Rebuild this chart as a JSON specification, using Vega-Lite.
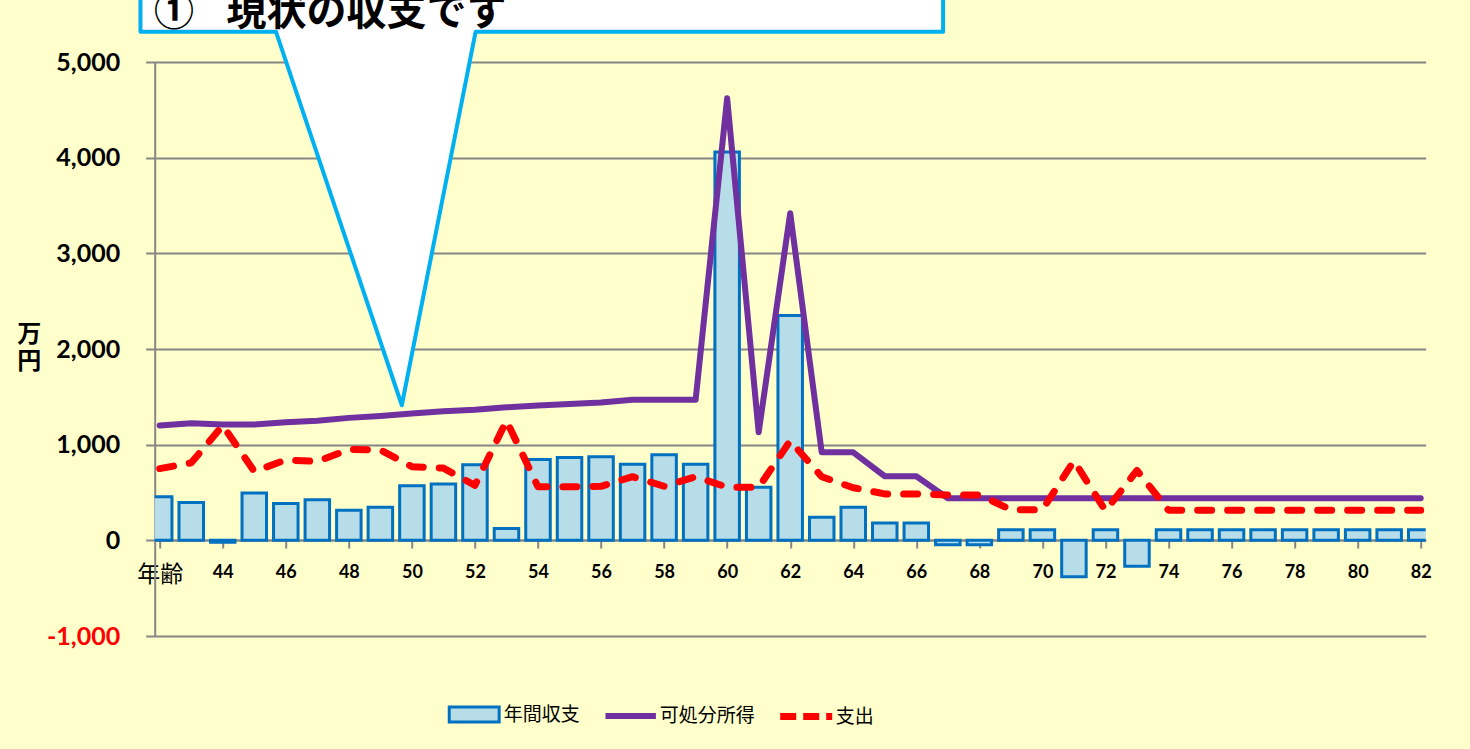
{
  "$schema": "https://vega.github.io/schema/vega-lite/v6.json",
  "autosize": {"type": "none"},
  "width": 1271,
  "height": 574,
  "padding": {"left": 154.7, "top": 62, "right": 44.3, "bottom": 113},
  "background": "#FFFFCC",
  "config": {"view": {"stroke": null}},
  "resolve": {"scale": {"color": "independent"}, "legend": {"color": "independent"}},
  "datasets": {
    "main": [
      {"age": 42, "series": "年間収支", "value": 455}, {"age": 43, "series": "年間収支", "value": 395},
      {"age": 44, "series": "年間収支", "value": -20}, {"age": 45, "series": "年間収支", "value": 495},
      {"age": 46, "series": "年間収支", "value": 385}, {"age": 47, "series": "年間収支", "value": 425},
      {"age": 48, "series": "年間収支", "value": 315}, {"age": 49, "series": "年間収支", "value": 345},
      {"age": 50, "series": "年間収支", "value": 570}, {"age": 51, "series": "年間収支", "value": 590},
      {"age": 52, "series": "年間収支", "value": 790}, {"age": 53, "series": "年間収支", "value": 125},
      {"age": 54, "series": "年間収支", "value": 845}, {"age": 55, "series": "年間収支", "value": 865},
      {"age": 56, "series": "年間収支", "value": 875}, {"age": 57, "series": "年間収支", "value": 795},
      {"age": 58, "series": "年間収支", "value": 895}, {"age": 59, "series": "年間収支", "value": 795},
      {"age": 60, "series": "年間収支", "value": 4060}, {"age": 61, "series": "年間収支", "value": 555},
      {"age": 62, "series": "年間収支", "value": 2350}, {"age": 63, "series": "年間収支", "value": 240},
      {"age": 64, "series": "年間収支", "value": 345}, {"age": 65, "series": "年間収支", "value": 180},
      {"age": 66, "series": "年間収支", "value": 180}, {"age": 67, "series": "年間収支", "value": -45},
      {"age": 68, "series": "年間収支", "value": -45}, {"age": 69, "series": "年間収支", "value": 110},
      {"age": 70, "series": "年間収支", "value": 110}, {"age": 71, "series": "年間収支", "value": -380},
      {"age": 72, "series": "年間収支", "value": 110}, {"age": 73, "series": "年間収支", "value": -270},
      {"age": 74, "series": "年間収支", "value": 110}, {"age": 75, "series": "年間収支", "value": 110},
      {"age": 76, "series": "年間収支", "value": 110}, {"age": 77, "series": "年間収支", "value": 110},
      {"age": 78, "series": "年間収支", "value": 110}, {"age": 79, "series": "年間収支", "value": 110},
      {"age": 80, "series": "年間収支", "value": 110}, {"age": 81, "series": "年間収支", "value": 110},
      {"age": 82, "series": "年間収支", "value": 110},

      {"age": 42, "series": "可処分所得", "value": 1200}, {"age": 43, "series": "可処分所得", "value": 1225},
      {"age": 44, "series": "可処分所得", "value": 1210}, {"age": 45, "series": "可処分所得", "value": 1210},
      {"age": 46, "series": "可処分所得", "value": 1235}, {"age": 47, "series": "可処分所得", "value": 1250},
      {"age": 48, "series": "可処分所得", "value": 1280}, {"age": 49, "series": "可処分所得", "value": 1300},
      {"age": 50, "series": "可処分所得", "value": 1325}, {"age": 51, "series": "可処分所得", "value": 1350},
      {"age": 52, "series": "可処分所得", "value": 1365}, {"age": 53, "series": "可処分所得", "value": 1390},
      {"age": 54, "series": "可処分所得", "value": 1410}, {"age": 55, "series": "可処分所得", "value": 1425},
      {"age": 56, "series": "可処分所得", "value": 1440}, {"age": 57, "series": "可処分所得", "value": 1470},
      {"age": 58, "series": "可処分所得", "value": 1470}, {"age": 59, "series": "可処分所得", "value": 1470},
      {"age": 60, "series": "可処分所得", "value": 4620}, {"age": 61, "series": "可処分所得", "value": 1130},
      {"age": 62, "series": "可処分所得", "value": 3420}, {"age": 63, "series": "可処分所得", "value": 920},
      {"age": 64, "series": "可処分所得", "value": 920}, {"age": 65, "series": "可処分所得", "value": 670},
      {"age": 66, "series": "可処分所得", "value": 670}, {"age": 67, "series": "可処分所得", "value": 440},
      {"age": 68, "series": "可処分所得", "value": 440}, {"age": 69, "series": "可処分所得", "value": 440},
      {"age": 70, "series": "可処分所得", "value": 440}, {"age": 71, "series": "可処分所得", "value": 440},
      {"age": 72, "series": "可処分所得", "value": 440}, {"age": 73, "series": "可処分所得", "value": 440},
      {"age": 74, "series": "可処分所得", "value": 440}, {"age": 75, "series": "可処分所得", "value": 440},
      {"age": 76, "series": "可処分所得", "value": 440}, {"age": 77, "series": "可処分所得", "value": 440},
      {"age": 78, "series": "可処分所得", "value": 440}, {"age": 79, "series": "可処分所得", "value": 440},
      {"age": 80, "series": "可処分所得", "value": 440}, {"age": 81, "series": "可処分所得", "value": 440},
      {"age": 82, "series": "可処分所得", "value": 440},

      {"age": 42, "series": "支出", "value": 750}, {"age": 43, "series": "支出", "value": 810},
      {"age": 44, "series": "支出", "value": 1200}, {"age": 45, "series": "支出", "value": 720},
      {"age": 46, "series": "支出", "value": 840}, {"age": 47, "series": "支出", "value": 825},
      {"age": 48, "series": "支出", "value": 950}, {"age": 49, "series": "支出", "value": 945},
      {"age": 50, "series": "支出", "value": 770}, {"age": 51, "series": "支出", "value": 755},
      {"age": 52, "series": "支出", "value": 575}, {"age": 53, "series": "支出", "value": 1250},
      {"age": 54, "series": "支出", "value": 560}, {"age": 55, "series": "支出", "value": 560},
      {"age": 56, "series": "支出", "value": 565}, {"age": 57, "series": "支出", "value": 665},
      {"age": 58, "series": "支出", "value": 565}, {"age": 59, "series": "支出", "value": 665},
      {"age": 60, "series": "支出", "value": 555}, {"age": 61, "series": "支出", "value": 555},
      {"age": 62, "series": "支出", "value": 1040}, {"age": 63, "series": "支出", "value": 665},
      {"age": 64, "series": "支出", "value": 550}, {"age": 65, "series": "支出", "value": 485},
      {"age": 66, "series": "支出", "value": 485}, {"age": 67, "series": "支出", "value": 475},
      {"age": 68, "series": "支出", "value": 475}, {"age": 69, "series": "支出", "value": 320},
      {"age": 70, "series": "支出", "value": 320}, {"age": 71, "series": "支出", "value": 830},
      {"age": 72, "series": "支出", "value": 310}, {"age": 73, "series": "支出", "value": 730},
      {"age": 74, "series": "支出", "value": 315}, {"age": 75, "series": "支出", "value": 315},
      {"age": 76, "series": "支出", "value": 315}, {"age": 77, "series": "支出", "value": 315},
      {"age": 78, "series": "支出", "value": 315}, {"age": 79, "series": "支出", "value": 315},
      {"age": 80, "series": "支出", "value": 315}, {"age": 81, "series": "支出", "value": 315},
      {"age": 82, "series": "支出", "value": 315}
    ],
    "callout": [
      {"i": 1, "age": 41.39, "value": 5800},
      {"i": 2, "age": 41.39, "value": 5316},
      {"i": 3, "age": 45.69, "value": 5316},
      {"i": 4, "age": 49.68, "value": 1412},
      {"i": 5, "age": 52.02, "value": 5316},
      {"i": 6, "age": 66.85, "value": 5316},
      {"i": 7, "age": 66.85, "value": 5800},
      {"i": 8, "age": 41.39, "value": 5800}
    ]
  },
  "layer": [
    {
      "data": {"name": "main"},
      "transform": [{"filter": "datum.series === '年間収支'"}],
      "mark": {"type": "bar", "orient": "vertical", "width": 24.5, "stroke": "#0070C0", "strokeWidth": 3, "clip": true},
      "encoding": {
        "x": {
          "field": "age", "type": "quantitative",
          "scale": {"domain": [42, 82], "nice": false, "zero": false},
          "axis": {
            "values": [42, 44, 46, 48, 50, 52, 54, 56, 58, 60, 62, 64, 66, 68, 70, 72, 74, 76, 78, 80, 82],
            "labelExpr": "datum.value == 42 ? '年齢' : datum.label",
            "offset": -96,
            "grid": false,
            "title": null,
            "domainColor": "#868686", "domainWidth": 2,
            "tickColor": "#868686", "tickWidth": 2, "tickSize": 8,
            "labelFont": {"condition": {"test": "datum.value == 42", "value": "Noto Sans CJK JP"}, "value": "Lato"},
            "labelFontSize": {"condition": {"test": "datum.value == 42", "value": 23}, "value": 18},
            "labelFontWeight": {"condition": {"test": "datum.value == 42", "value": "normal"}, "value": "bold"},
            "labelColor": "#000000",
            "labelPadding": 15,
            "labelFlush": false,
            "labelOverlap": false
          }
        },
        "y": {
          "field": "value", "type": "quantitative",
          "scale": {"domain": [-1000, 5000], "nice": false, "zero": false},
          "axis": {
            "values": [-1000, 0, 1000, 2000, 3000, 4000, 5000],
            "labelExpr": "(datum.value < 0 ? '-' : '') + format(abs(datum.value), ',')",
            "labelColor": {"condition": {"test": "datum.value < 0", "value": "#FF0000"}, "value": "#000000"},
            "labelFont": "Lato", "labelFontSize": 25, "labelFontWeight": "bold",
            "labelPadding": 26,
            "tickSize": 9, "tickColor": "#868686", "tickWidth": 2,
            "domainColor": "#868686", "domainWidth": 2,
            "gridColor": "#868686", "gridWidth": 2,
            "title": ["万", "円"],
            "titleAngle": 0,
            "titleFont": "Noto Sans CJK JP", "titleFontSize": 24, "titleFontWeight": "bold",
            "titleColor": "#000000",
            "titleX": -126, "titleY": 260,
            "titleAlign": "center", "titleBaseline": "top", "titleLineHeight": 27
          }
        },
        "color": {
          "field": "series", "type": "nominal",
          "scale": {"domain": ["年間収支"], "range": ["#B7DDE8"]},
          "legend": {
            "orient": "none", "legendX": 292, "legendY": 625,
            "direction": "horizontal", "title": null,
            "symbolSize": 2704,
            "symbolType": "M-0.96,-0.29H0.96V0.29H-0.96Z",
            "symbolStrokeColor": "#0070C0", "symbolStrokeWidth": 3, "symbolOpacity": 1,
            "labelFont": "Noto Sans CJK JP", "labelFontSize": 19, "labelColor": "#000000",
            "labelOffset": 2, "padding": 0
          }
        }
      }
    },
    {
      "data": {"name": "main"},
      "transform": [{"filter": "datum.series === '可処分所得'"}],
      "mark": {"type": "line", "strokeWidth": 6, "strokeJoin": "round", "strokeCap": "round"},
      "encoding": {
        "x": {"field": "age", "type": "quantitative"},
        "y": {"field": "value", "type": "quantitative"},
        "color": {
          "field": "series", "type": "nominal",
          "scale": {"domain": ["可処分所得"], "range": ["#7030A0"]},
          "legend": {
            "orient": "none", "legendX": 447, "legendY": 625,
            "direction": "horizontal", "title": null,
            "symbolSize": 2704,
            "symbolType": "M-0.97,0H0.97",
            "symbolStrokeWidth": 6, "symbolOpacity": 1,
            "labelFont": "Noto Sans CJK JP", "labelFontSize": 19, "labelColor": "#000000",
            "labelOffset": 0, "padding": 0
          }
        }
      }
    },
    {
      "data": {"name": "main"},
      "transform": [{"filter": "datum.series === '支出'"}],
      "mark": {"type": "line", "strokeWidth": 7, "strokeDash": [14, 16], "strokeJoin": "round", "strokeCap": "round"},
      "encoding": {
        "x": {"field": "age", "type": "quantitative"},
        "y": {"field": "value", "type": "quantitative"},
        "color": {
          "field": "series", "type": "nominal",
          "scale": {"domain": ["支出"], "range": ["#FF0000"]},
          "legend": {
            "orient": "none", "legendX": 622, "legendY": 625,
            "direction": "horizontal", "title": null,
            "symbolSize": 2704,
            "symbolType": "M-1,0H1",
            "symbolStrokeWidth": 7, "symbolDash": [16, 7], "symbolOpacity": 1,
            "labelFont": "Noto Sans CJK JP", "labelFontSize": 19, "labelColor": "#000000",
            "labelOffset": 0, "padding": 0
          }
        }
      }
    },
    {
      "data": {"name": "callout"},
      "mark": {"type": "line", "fill": "#FFFFFF", "stroke": "#00B0F0", "strokeWidth": 4, "strokeJoin": "round"},
      "encoding": {
        "x": {"field": "age", "type": "quantitative"},
        "y": {"field": "value", "type": "quantitative"},
        "order": {"field": "i", "type": "quantitative"}
      }
    },
    {
      "data": {"values": [{}]},
      "mark": {"type": "text", "text": "①", "font": "Noto Sans CJK JP", "fontSize": 40, "fontWeight": "bold", "align": "left", "baseline": "alphabetic", "color": "#000000"},
      "encoding": {
        "x": {"datum": 41.82, "type": "quantitative"},
        "y": {"datum": 5390, "type": "quantitative"}
      }
    },
    {
      "data": {"values": [{}]},
      "mark": {"type": "text", "text": "現状の収支です", "font": "Noto Sans CJK JP", "fontSize": 40, "fontWeight": "bold", "align": "left", "baseline": "alphabetic", "color": "#000000"},
      "encoding": {
        "x": {"datum": 44.12, "type": "quantitative"},
        "y": {"datum": 5390, "type": "quantitative"}
      }
    }
  ]
}
